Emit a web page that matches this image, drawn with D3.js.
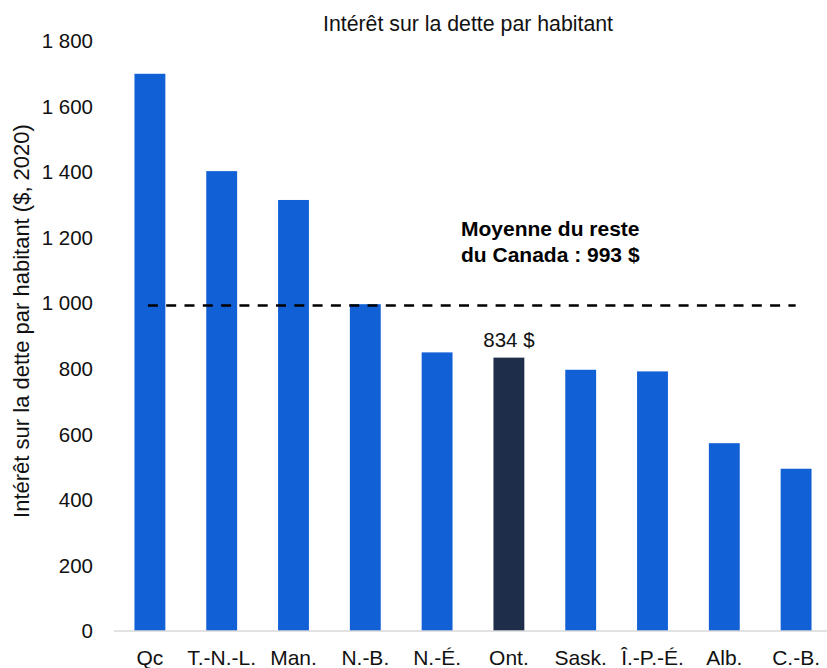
<!DOCTYPE html>
<html>
<head>
<meta charset="utf-8">
<script src="https://cdn.jsdelivr.net/npm/d3@7"></script>
<style>
  body { margin: 0; background: #fff; }
  svg { display: block; font-family: "Liberation Sans", Arial, sans-serif; }
</style>
</head>
<body>
<div id="chart"></div>
<script>
// data
var provinces = ["Qc", "T.-N.-L.", "Man.", "N.-B.", "N.-É.", "Ont.", "Sask.", "Î.-P.-É.", "Alb.", "C.-B."];
var interest = [1700, 1403, 1315, 997, 850, 834, 797, 792, 573, 495];
var yTicks = [0, 200, 400, 600, 800, 1000, 1200, 1400, 1600, 1800];
var restOfCanada = 993;
var highlight = "Ont.";

var width = 827, height = 668;

var svg = d3.select("#chart").append("svg")
    .attr("width", width)
    .attr("height", height);

var x = d3.scaleBand()
    .domain(provinces)
    .range([114, 832])
    .paddingInner(0.57)
    .paddingOuter(0.285);

var y = d3.scaleLinear()
    .domain([0, 1800])
    .range([631, 41]);

// y tick labels, no axis line
svg.append("g").selectAll("text")
    .data(yTicks)
  .enter().append("text")
    .attr("x", 93)
    .attr("y", function(d) { return y(d); })
    .attr("dy", "0.35em")
    .attr("text-anchor", "end")
    .style("font-size", "20.5px")
    .style("fill", "#111")
    .text(function(d) { return d3.format(",")(d).replace(",", " "); });

// bars
svg.append("g").selectAll("rect")
    .data(provinces)
  .enter().append("rect")
    .attr("x", function(d) { return x(d); })
    .attr("y", function(d, i) { return y(interest[i]); })
    .attr("width", x.bandwidth())
    .attr("height", function(d, i) { return y(0) - y(interest[i]); })
    .style("fill", function(d) { return d == highlight ? "#1e2d4a" : "#1160d6"; });

// baseline
svg.append("line")
    .attr("x1", 114).attr("x2", width)
    .attr("y1", y(0)).attr("y2", y(0))
    .style("stroke", "#d9d9d9")
    .style("stroke-width", 1.5);

// x labels (bottom edge cuts them like in the original)
svg.append("g").selectAll("text")
    .data(provinces)
  .enter().append("text")
    .attr("x", function(d) { return x(d) + x.bandwidth() / 2; })
    .attr("y", 665)
    .attr("text-anchor", "middle")
    .style("font-size", "21px")
    .style("fill", "#111")
    .text(function(d) { return d; });

// average line
svg.append("line")
    .attr("x1", x(provinces[0]) + x.bandwidth() / 2 - 2)
    .attr("x2", x(provinces[provinces.length - 1]) + 15)
    .attr("y1", y(restOfCanada)).attr("y2", y(restOfCanada))
    .style("stroke", "#000")
    .style("stroke-width", 2.5)
    .style("stroke-dasharray", "10,8.3");

svg.append("text")
    .attr("x", 461)
    .attr("y", 236)
    .style("font-size", "21px")
    .style("font-weight", "bold")
    .style("fill", "#000")
    .text("Moyenne du reste");

svg.append("text")
    .attr("x", 461)
    .attr("y", 262)
    .style("font-size", "21px")
    .style("font-weight", "bold")
    .style("fill", "#000")
    .text("du Canada : " + restOfCanada + " $");

// Ontario value label
var ontIdx = provinces.indexOf(highlight);
svg.append("text")
    .attr("x", x(highlight) + x.bandwidth() / 2)
    .attr("y", y(interest[ontIdx]) - 11)
    .attr("text-anchor", "middle")
    .style("font-size", "20.5px")
    .style("fill", "#111")
    .text(interest[ontIdx] + " $");

// title
svg.append("text")
    .attr("x", 468)
    .attr("y", 31)
    .attr("text-anchor", "middle")
    .style("font-size", "21.3px")
    .style("fill", "#111")
    .text("Intérêt sur la dette par habitant");

// y axis title
svg.append("text")
    .attr("transform", "translate(29," + 321 + ") rotate(-90)")
    .attr("text-anchor", "middle")
    .style("font-size", "22px")
    .style("fill", "#111")
    .text("Intérêt sur la dette par habitant ($, 2020)");
</script>
</body>
</html>
